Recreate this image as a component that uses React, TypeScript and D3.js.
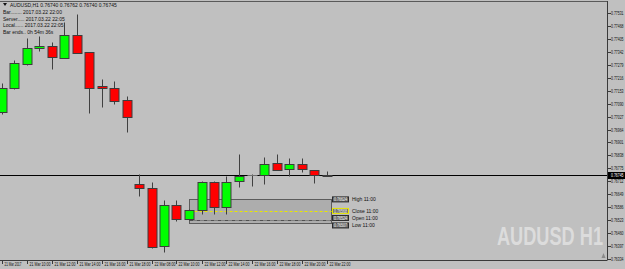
import React from "react";
import * as d3 from "d3";

const W = 625;
const H = 269;

// OHLC data (hourly bars)
const opens = [0.77047, 0.77164, 0.77281, 0.77359, 0.77369, 0.7731, 0.77422, 0.77339, 0.77174, 0.77164, 0.77106, 0.76697, 0.76678, 0.76396, 0.76595, 0.76527, 0.76571, 0.76707, 0.76585, 0.76712, 0.76741, 0.76741, 0.76799, 0.7677, 0.76794, 0.76765, 0.7674];
const highs = [0.77189, 0.773, 0.77407, 0.77417, 0.77388, 0.77485, 0.77524, 0.77339, 0.77208, 0.77198, 0.77125, 0.76746, 0.76707, 0.76619, 0.76619, 0.76576, 0.76712, 0.76712, 0.76736, 0.76843, 0.76746, 0.76829, 0.76843, 0.76824, 0.76824, 0.76765, 0.76762];
const lows = [0.77038, 0.77159, 0.77276, 0.77344, 0.77257, 0.7731, 0.77335, 0.77043, 0.77072, 0.77086, 0.7695, 0.76639, 0.76386, 0.76366, 0.76517, 0.76522, 0.76551, 0.76551, 0.76551, 0.76683, 0.76687, 0.76697, 0.76765, 0.76736, 0.76756, 0.76702, 0.7674];
const closes = [0.77164, 0.77286, 0.77359, 0.77369, 0.77315, 0.77422, 0.77335, 0.77164, 0.77164, 0.77101, 0.77023, 0.76678, 0.76391, 0.76595, 0.76527, 0.76571, 0.76707, 0.76585, 0.76707, 0.76736, 0.76741, 0.76794, 0.76765, 0.76794, 0.7677, 0.76741, 0.76745];

const priceTicks = ["0.77531", "0.77468", "0.77405", "0.77342", "0.77279", "0.77216", "0.77153", "0.77090", "0.77027", "0.76964", "0.76901", "0.76838", "0.76775", "0.76712", "0.76649", "0.76586", "0.76523", "0.76460", "0.76397", "0.76334"];
const timeLabels = ["21 Mar 2017", "21 Mar 10:00", "21 Mar 12:00", "21 Mar 14:00", "21 Mar 16:00", "21 Mar 18:00", "22 Mar 08:00", "22 Mar 10:00", "22 Mar 12:00", "22 Mar 14:00", "22 Mar 16:00", "22 Mar 18:00", "22 Mar 20:00", "22 Mar 22:00"];
const timeLabelIndex = [0, 2, 4, 6, 8, 10, 12, 14, 16, 18, 20, 22, 24, 26];

const currentPrice = 0.76745;
const infoLines = ["Bar........ 2017.03.22 22:00", "Server..... 2017.03.22 22:05", "Local...... 2017.03.22 22:05", "Bar ends.. 0h 54m 36s"];
const headerText = "AUDUSD,H1  0.76740 0.76762 0.76740 0.76745";

// Daily-levels object (bar 11:00)
const levelNames = ["High 11:00", "Close 11:00", "Open 11:00", "Low 11:00"];
const levelValues = [0.76624, 0.76568, 0.76524, 0.76507];
const levelStartIndex = 15;
const levelEndIndex = 26;

export default function App() {
  const plotRight = 607;
  const axisBottom = 260;
  const x = d3.scaleLinear().domain([0, 26]).range([1.5, 326.5]);
  const y = d3.scaleLinear().domain([0.76334, 0.77531]).range([259, 13]);
  const font = "'Liberation Sans', Arial, sans-serif";

  const candles = opens.map((o, i) => ({ o, h: highs[i], l: lows[i], c: closes[i], i }));
  const cy = (p: number) => Math.round(y(p)) + 0.5;

  const lvlX0 = Math.round(x(levelStartIndex)) + 0.5;
  const lvlX1 = Math.round(x(levelEndIndex)) + 4.5;

  return (
    <svg width={W} height={H} style={{ position: "absolute", left: 0, top: 0, display: "block" }}>
      <rect x={0} y={0} width={W} height={H} fill="#c0c0c0" />
      {/* top border */}
      <line x1={0} x2={plotRight} y1={1.5} y2={1.5} stroke="#5a5a5a" />

      {/* watermark */}
      <text x={497} y={245} fontFamily="'Liberation Sans Narrow', 'Liberation Sans', Arial, sans-serif" fontWeight="bold" fontSize={26} fill="#dcdcdc" textLength={106} lengthAdjust="spacingAndGlyphs">AUDUSD H1</text>

      {/* level object */}
      <rect x={lvlX0} y={cy(levelValues[0])} width={lvlX1 - lvlX0} height={cy(levelValues[3]) - cy(levelValues[0])} fill="#adadad" stroke="#5c5c5c" strokeWidth={1} />
      <line x1={lvlX0} x2={lvlX1} y1={cy(levelValues[1])} y2={cy(levelValues[1])} stroke="#e8e800" strokeDasharray="3,2" />
      <line x1={lvlX0} x2={lvlX1} y1={cy(levelValues[2])} y2={cy(levelValues[2])} stroke="#505050" strokeDasharray="4,1,1,1" />

      {/* current price line */}
      <line x1={0} x2={plotRight} y1={cy(currentPrice)} y2={cy(currentPrice)} stroke="#000" />

      {/* candles */}
      {candles.map((d) => {
        const cx = Math.round(x(d.i)) + 0.5;
        const top = Math.round(y(Math.max(d.o, d.c)));
        const bot = Math.round(y(Math.min(d.o, d.c)));
        const up = d.c > d.o;
        const doji = d.c === d.o;
        return (
          <g key={d.i}>
            <line x1={cx} x2={cx} y1={cy(d.h)} y2={cy(d.l)} stroke="#404040" />
            {doji ? (
              <line x1={cx - 5} x2={cx + 5} y1={top + 0.5} y2={top + 0.5} stroke="#707070" />
            ) : (
              <rect x={cx - 4.5} y={top + 0.5} width={9} height={Math.max(bot - top, 1)} fill={up ? "#00ff00" : "#ff0000"} stroke="#3c3c3c" />
            )}
          </g>
        );
      })}

      {/* level labels */}
      {levelValues.map((v, k) => {
        const ly = y(v);
        const by = k === 3 ? ly + 2 : k === 2 ? ly - 2 : ly;
        return (
          <g key={k}>
            <rect x={332.5} y={by - 2.5} width={16} height={5} fill="#6e6e6e" stroke={k === 1 ? "#e8e800" : "#2a2a2a"} />
            <text x={340.5} y={by + 1.6} textAnchor="middle" fontFamily={font} fontSize={4.5} fill="#f0f0f0" textLength={13} lengthAdjust="spacingAndGlyphs">{v.toFixed(5)}</text>
            <text x={352} y={by + 1.8} fontFamily={font} fontSize={5} fill="#111">{levelNames[k]}</text>
          </g>
        );
      })}

      {/* info text */}
      <path d="M3,3 L7,3 L5,6 Z" fill="#111" />
      <text x={10} y={7} fontFamily={font} fontSize={5} fill="#111">{headerText}</text>
      {infoLines.map((t, k) => (
        <text key={k} x={3} y={14 + k * 6.5} fontFamily={font} fontSize={5} fill="#111">{t}</text>
      ))}

      {/* axes */}
      <line x1={plotRight + 0.5} x2={plotRight + 0.5} y1={1} y2={axisBottom} stroke="#3a3a3a" />
      <line x1={0} x2={plotRight + 0.5} y1={axisBottom + 0.5} y2={axisBottom + 0.5} stroke="#3a3a3a" />
      {priceTicks.map((t) => {
        const ty = cy(parseFloat(t));
        return (
          <g key={t}>
            <line x1={plotRight} x2={plotRight + 4} y1={ty} y2={ty} stroke="#3a3a3a" />
            <text x={611} y={ty + 1.6} fontFamily={font} fontSize={4.5} fill="#111" textLength={12.5} lengthAdjust="spacingAndGlyphs">{t}</text>
          </g>
        );
      })}
      <rect x={608} y={cy(currentPrice) - 3.5} width={17} height={7} fill="#000" />
      <text x={611} y={cy(currentPrice) + 1.6} fontFamily={font} fontSize={4.5} fill="#fff" textLength={12.5} lengthAdjust="spacingAndGlyphs">{currentPrice.toFixed(5)}</text>

      {timeLabels.map((t, k) => {
        const tx = Math.round(x(timeLabelIndex[k])) + 0.5;
        return (
          <g key={t}>
            <line x1={tx} x2={tx} y1={axisBottom} y2={axisBottom + 4} stroke="#3a3a3a" />
            <text x={tx + 2} y={axisBottom + 6} fontFamily={font} fontSize={4.5} fill="#111" textLength={k === 0 ? 17 : 21} lengthAdjust="spacingAndGlyphs">{t}</text>
          </g>
        );
      })}
      {/* chart shift marker */}
      <path d="M601.5,258 L605.5,258 L603.5,253 Z" fill="#8a8a8a" />
    </svg>
  );
}
